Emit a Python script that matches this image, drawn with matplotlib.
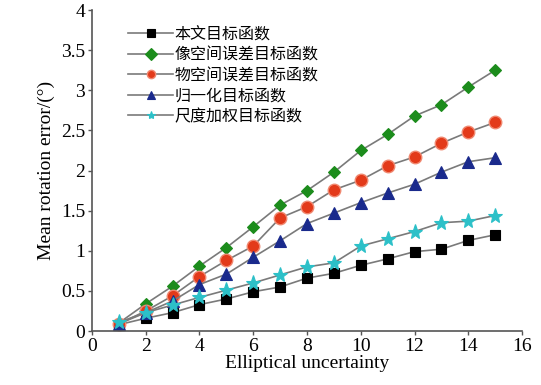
import matplotlib
matplotlib.use("Agg")
import matplotlib.pyplot as plt
from matplotlib.ticker import FuncFormatter

x = list(range(1, 16))
labels = ["本文目标函数", "像空间误差目标函数", "物空间误差目标函数", "归一化目标函数", "尺度加权目标函数"]
black_sq = [0.08, 0.16, 0.23, 0.33, 0.40, 0.49, 0.55, 0.66, 0.72, 0.82, 0.90, 0.99, 1.02, 1.13, 1.20]
green_dm = [0.10, 0.34, 0.56, 0.81, 1.04, 1.30, 1.57, 1.75, 1.98, 2.25, 2.45, 2.68, 2.82, 3.04, 3.25]
red_ci = [0.09, 0.25, 0.44, 0.68, 0.88, 1.06, 1.41, 1.55, 1.76, 1.88, 2.06, 2.17, 2.34, 2.48, 2.60]
blue_tr = [0.09, 0.23, 0.375, 0.58, 0.71, 0.92, 1.125, 1.34, 1.47, 1.60, 1.72, 1.83, 1.98, 2.11, 2.16]
cyan_st = [0.11, 0.23, 0.325, 0.42, 0.51, 0.60, 0.70, 0.80, 0.85, 1.06, 1.15, 1.24, 1.35, 1.37, 1.44]
xticks = [0, 2, 4, 6, 8, 10, 12, 14, 16]
yticks = [0, 0.5, 1, 1.5, 2, 2.5, 3, 3.5, 4]

plt.rcParams['font.family'] = ['Liberation Serif', 'Noto Sans CJK SC']

fig = plt.figure(figsize=(5.41, 3.85), dpi=100)
ax = fig.add_axes([0.170, 0.140, 0.795, 0.834])

series = [
    (black_sq, dict(marker='s', color='black', ms=6.5, mec='black')),
    (green_dm, dict(marker='D', color='#1c8c1c', ms=6, mec='#1c8c1c')),
    (red_ci, dict(marker='o', color='#e33a1a', ms=9, mec='#f08870', mew=1.0)),
    (blue_tr, dict(marker='^', color='#1a2a8c', ms=9, mec='#1a2a8c')),
    (cyan_st, dict(marker='*', color='#2cc0c8', ms=11, mec='#2cc0c8')),
]
for (vals, st), lab in zip(series, labels):
    ax.plot(x, vals, color='#7a7a7a', lw=1.2, marker=st['marker'], ms=st['ms'],
            mfc=st['color'], mec=st['mec'], mew=st.get('mew', 0.8), label=lab)

ax.set_xlim(0, 16)
ax.set_ylim(0, 4)
ax.set_xticks(xticks)
ax.set_yticks(yticks)
ax.yaxis.set_major_formatter(FuncFormatter(lambda v, p: ('%g' % v)))
for s in ['top', 'right']:
    ax.spines[s].set_visible(False)
for s in ['left', 'bottom']:
    ax.spines[s].set_color('#555555')
    ax.spines[s].set_linewidth(1.2)
ax.tick_params(axis='both', direction='out', length=3, width=1, color='#555555',
               labelsize=14, pad=2)
ax.set_xlabel('Elliptical uncertainty', fontsize=14, labelpad=0)
ax.set_ylabel('Mean rotation error/(°)', fontsize=14, labelpad=4)

leg = ax.legend(loc='upper left', bbox_to_anchor=(0.07, 0.97), frameon=False,
                handlelength=2.8, handletextpad=0.1, labelspacing=0.22,
                borderaxespad=0.0,
                prop={'family': ['Noto Sans CJK SC'], 'size': 11.5})
for h in leg.legend_handles:
    h.set_markersize(6)

fig.savefig('out.png', dpi=100)
